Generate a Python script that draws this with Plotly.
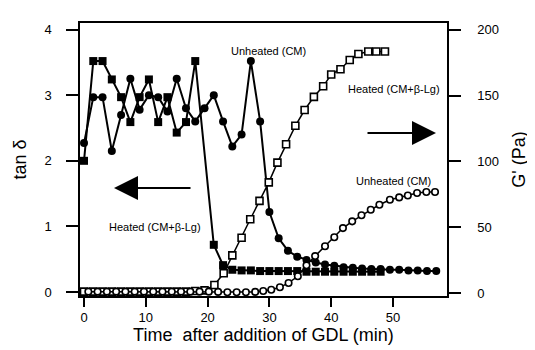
import plotly.graph_objects as go

# ---- data ----
# tan delta, heated (CM+beta-Lg) -- filled squares
t_tan_heated = [0, 1.5, 3.0, 4.5, 6.0, 7.5, 9.0, 10.5, 12.0, 13.5, 15.0, 16.5, 18.0,
                21.0, 22.5, 24.0, 25.5, 27.0, 28.5, 30.0, 31.5, 33.0, 34.5, 36.0,
                37.5, 39.0, 40.5, 42.0, 43.5, 45.0, 46.5, 48.0]
tan_heated = [2.0, 3.52, 3.52, 3.24, 2.97, 2.59, 2.97, 3.24, 2.59, 2.97, 2.43, 2.59, 3.52,
              0.72, 0.41, 0.34, 0.33, 0.33, 0.32, 0.32, 0.32, 0.32, 0.32, 0.31,
              0.31, 0.31, 0.31, 0.31, 0.31, 0.31, 0.31, 0.31]

# tan delta, unheated (CM) -- filled circles
t_tan_unheated = [0, 1.5, 3.0, 4.5, 6.0, 7.5, 9.0, 10.5, 12.0, 13.5, 15.0, 16.5, 18.0,
                  19.5, 21.0, 22.5, 24.0, 25.5, 27.0, 28.5, 30.0, 31.5, 33.0, 34.5,
                  36.0, 37.5, 39.0, 40.5, 42.0, 43.5, 45.0, 46.5, 48.0, 49.5, 51.0,
                  52.5, 54.0, 55.5, 57.0]
tan_unheated = [2.27, 2.97, 2.97, 2.15, 2.70, 3.25, 2.78, 3.00, 2.97, 2.75, 3.25, 2.80, 2.60,
                2.80, 3.00, 2.60, 2.22, 2.40, 3.52, 2.60, 1.22, 0.82, 0.63, 0.54,
                0.49, 0.45, 0.42, 0.40, 0.38, 0.37, 0.36, 0.35, 0.35, 0.34, 0.34,
                0.33, 0.33, 0.32, 0.32]

# G' heated -- open squares
t_G_heated = [0, 1.5, 3.0, 4.5, 6.0, 7.5, 9.0, 10.5, 12.0, 13.5, 15.0, 16.5, 18.0, 19.5,
              21.1, 22.6, 24.0, 25.5, 26.9, 28.4, 29.9, 31.3, 32.7, 34.2, 35.7, 37.2,
              38.7, 40.0, 41.5, 43.0, 44.4, 46.0, 47.3, 48.7]
G_heated = [1, 1, 1, 1, 1, 1, 1, 1, 1, 1, 1, 1, 1.5, 2,
            6, 15, 28.6, 42, 56, 70, 84, 99, 113, 127, 139, 149,
            157, 166, 170, 177, 181.5, 183.5, 183.5, 183.5]

# G' unheated -- open circles
t_G_unheated = [0.7, 2.2, 3.7, 5.2, 6.7, 8.2, 9.7, 11.2, 12.7, 14.2, 15.7, 17.2, 18.7,
                20.2, 21.7, 23.2, 24.7, 26.2, 27.7, 29.0, 30.3, 31.7, 33.1, 34.6, 36.0,
                37.4, 39.0, 40.5, 41.9, 43.4, 44.9, 46.4, 47.8, 49.5, 51.0, 52.4, 53.9,
                55.4, 56.8]
G_unheated = [1, 1, 1, 1, 1, 1, 1, 1, 1, 1, 1, 1, 1,
              1, 0.8, 0.6, 0.6, 0.6, 0.8, 1.5, 2.5, 4.3, 7.6, 12.7, 21,
              28, 35.5, 42.3, 49.3, 54.4, 59, 63.2, 67, 70.8, 72.6, 74, 75.9,
              76.7, 76.7]

x_ticks = [0, 10, 20, 30, 40, 50]
y_left_ticks = [0, 1, 2, 3, 4]
y_right_ticks = [0, 50, 100, 150, 200]

FONT = "Liberation Sans"

fig = go.Figure()

fig.add_trace(go.Scatter(
    x=t_G_heated, y=G_heated, yaxis="y2", mode="lines+markers",
    line=dict(color="black", width=1.5),
    marker=dict(symbol="square", size=7, color="white", line=dict(color="black", width=1.6)),
    showlegend=False))
fig.add_trace(go.Scatter(
    x=t_G_unheated, y=G_unheated, yaxis="y2", mode="lines+markers",
    line=dict(color="black", width=1.5),
    marker=dict(symbol="circle", size=6.5, color="white", line=dict(color="black", width=1.6)),
    showlegend=False))
fig.add_trace(go.Scatter(
    x=t_tan_heated, y=tan_heated, mode="lines+markers",
    line=dict(color="black", width=2),
    marker=dict(symbol="square", size=8, color="black"),
    showlegend=False))
fig.add_trace(go.Scatter(
    x=t_tan_unheated, y=tan_unheated, mode="lines+markers",
    line=dict(color="black", width=2),
    marker=dict(symbol="circle", size=8, color="black"),
    showlegend=False))

# plot-area pixel box, used to place texts and arrows in paper coordinates
L, R, T, B = 72, 439, 15, 288
def px(x):
    return (x - L) / (R - L)
def py(y):
    return (B - y) / (B - T)

ann_font = dict(family=FONT, size=11, color="black")
annotations = [
    dict(x=260, y=43, text="Unheated (CM)"),
    dict(x=386, y=81, text="Heated (CM+β-Lg)"),
    dict(x=385, y=173, text="Unheated (CM)"),
    dict(x=147, y=219, text="Heated (CM+β-Lg)"),
]
for a in annotations:
    fig.add_annotation(x=px(a["x"]), y=py(a["y"]), xref="paper", yref="paper",
                       text=a["text"], showarrow=False, font=ann_font,
                       xanchor="center", yanchor="middle")

# arrows
fig.add_annotation(x=px(106), y=py(180), ax=78, ay=0, xref="paper", yref="paper",
                   showarrow=True, arrowhead=2, arrowsize=2.4, arrowwidth=2,
                   arrowcolor="black", text="")
fig.add_annotation(x=px(428), y=py(125), ax=-70, ay=0, xref="paper", yref="paper",
                   showarrow=True, arrowhead=2, arrowsize=2.4, arrowwidth=2,
                   arrowcolor="black", text="")

tick_font = dict(family=FONT, size=13, color="black")
title_font = dict(family=FONT, size=18, color="black")

fig.update_layout(
    width=535, height=350,
    margin=dict(l=L, r=535 - R, t=T, b=350 - B),
    paper_bgcolor="white", plot_bgcolor="white",
    xaxis=dict(range=[-0.65, 58.74], tickvals=x_ticks, ticks="outside", ticklen=9,
               tickwidth=1.5, tickcolor="black", showline=True, linecolor="black",
               linewidth=1.5, mirror=True, showgrid=False, zeroline=False,
               tickfont=tick_font,
               title=dict(text="Time  after addition of GDL (min)", font=title_font, standoff=1)),
    yaxis=dict(range=[-0.06, 4.10], tickvals=y_left_ticks, ticks="outside", ticklen=12,
               tickwidth=1.5, tickcolor="black", showline=True, linecolor="black",
               linewidth=1.5, mirror=True, showgrid=False, zeroline=False,
               tickfont=tick_font, ticklabelstandoff=12,
               title=dict(text="tan δ", font=title_font, standoff=13)),
    yaxis2=dict(range=[-2.3, 205.1], tickvals=y_right_ticks, overlaying="y", side="right",
                ticks="outside", ticklen=12, tickwidth=1.5, tickcolor="black",
                showline=True, linecolor="black", linewidth=1.5, showgrid=False,
                zeroline=False, tickfont=tick_font, ticklabelstandoff=14,
                title=dict(text="G' (Pa)", font=title_font, standoff=14)),
)

fig.write_html("out.html")
